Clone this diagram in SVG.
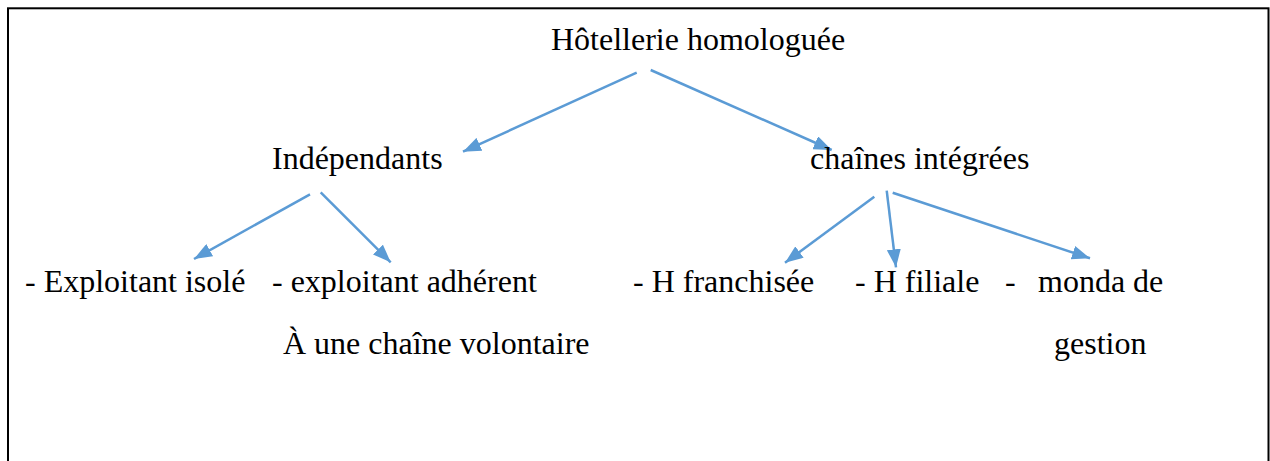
<svg xmlns="http://www.w3.org/2000/svg" width="1270" height="461" viewBox="0 0 1270 461">
  <style>
    .lbl { font-family: "Liberation Serif", "Times New Roman", serif; font-size: 32px; fill: #000; }
    .edge { stroke: #5B9BD5; stroke-width: 2.5; fill: none; marker-end: url(#arrow); }
  </style>
  <defs>
    <marker id="arrow" viewBox="0 0 18 14" refX="18" refY="7" markerWidth="18" markerHeight="14" markerUnits="userSpaceOnUse" orient="auto">
      <path d="M0,0 L18,7 L0,14 z" fill="#5B9BD5"/>
    </marker>
  </defs>

  <rect width="1270" height="461" fill="#fff"/>
  <!-- frame (bottom edge runs past the page) -->
  <rect x="8" y="8.3" width="1260.5" height="480" fill="none" stroke="#000" stroke-width="2"/>

  <g id="connectors">
    <line class="edge" x1="636.7" y1="72.7" x2="463" y2="151.7"/>
    <line class="edge" x1="650.7" y1="70" x2="831.7" y2="150"/>
    <line class="edge" x1="310" y1="194.3" x2="194" y2="259"/>
    <line class="edge" x1="320.7" y1="192.3" x2="390.7" y2="262.3"/>
    <line class="edge" x1="874.3" y1="196.7" x2="785" y2="262.7"/>
    <line class="edge" x1="886.7" y1="190.7" x2="896" y2="267.3"/>
    <line class="edge" x1="892.7" y1="192.7" x2="1090" y2="258.3"/>
  </g>

  <g id="root"><text class="lbl" x="551" y="50">Hôtellerie homologuée</text></g>
  <g id="independants"><text class="lbl" x="272" y="169">Indépendants</text></g>
  <g id="chaines"><text class="lbl" x="810" y="169">chaînes intégrées</text></g>
  <g id="isole"><text class="lbl" x="25" y="292">- Exploitant isolé</text></g>
  <g id="adherent">
    <text class="lbl" x="272" y="292">- exploitant adhérent</text>
    <text class="lbl" x="283" y="354">À une chaîne volontaire</text>
  </g>
  <g id="franchisee"><text class="lbl" x="633" y="292">- H franchisée</text></g>
  <g id="filiale"><text class="lbl" x="855" y="292">- H filiale</text></g>
  <g id="gestion">
    <text class="lbl" x="1005" y="292">-</text>
    <text class="lbl" x="1038" y="292">monda de</text>
    <text class="lbl" x="1054" y="354">gestion</text>
  </g>
</svg>
